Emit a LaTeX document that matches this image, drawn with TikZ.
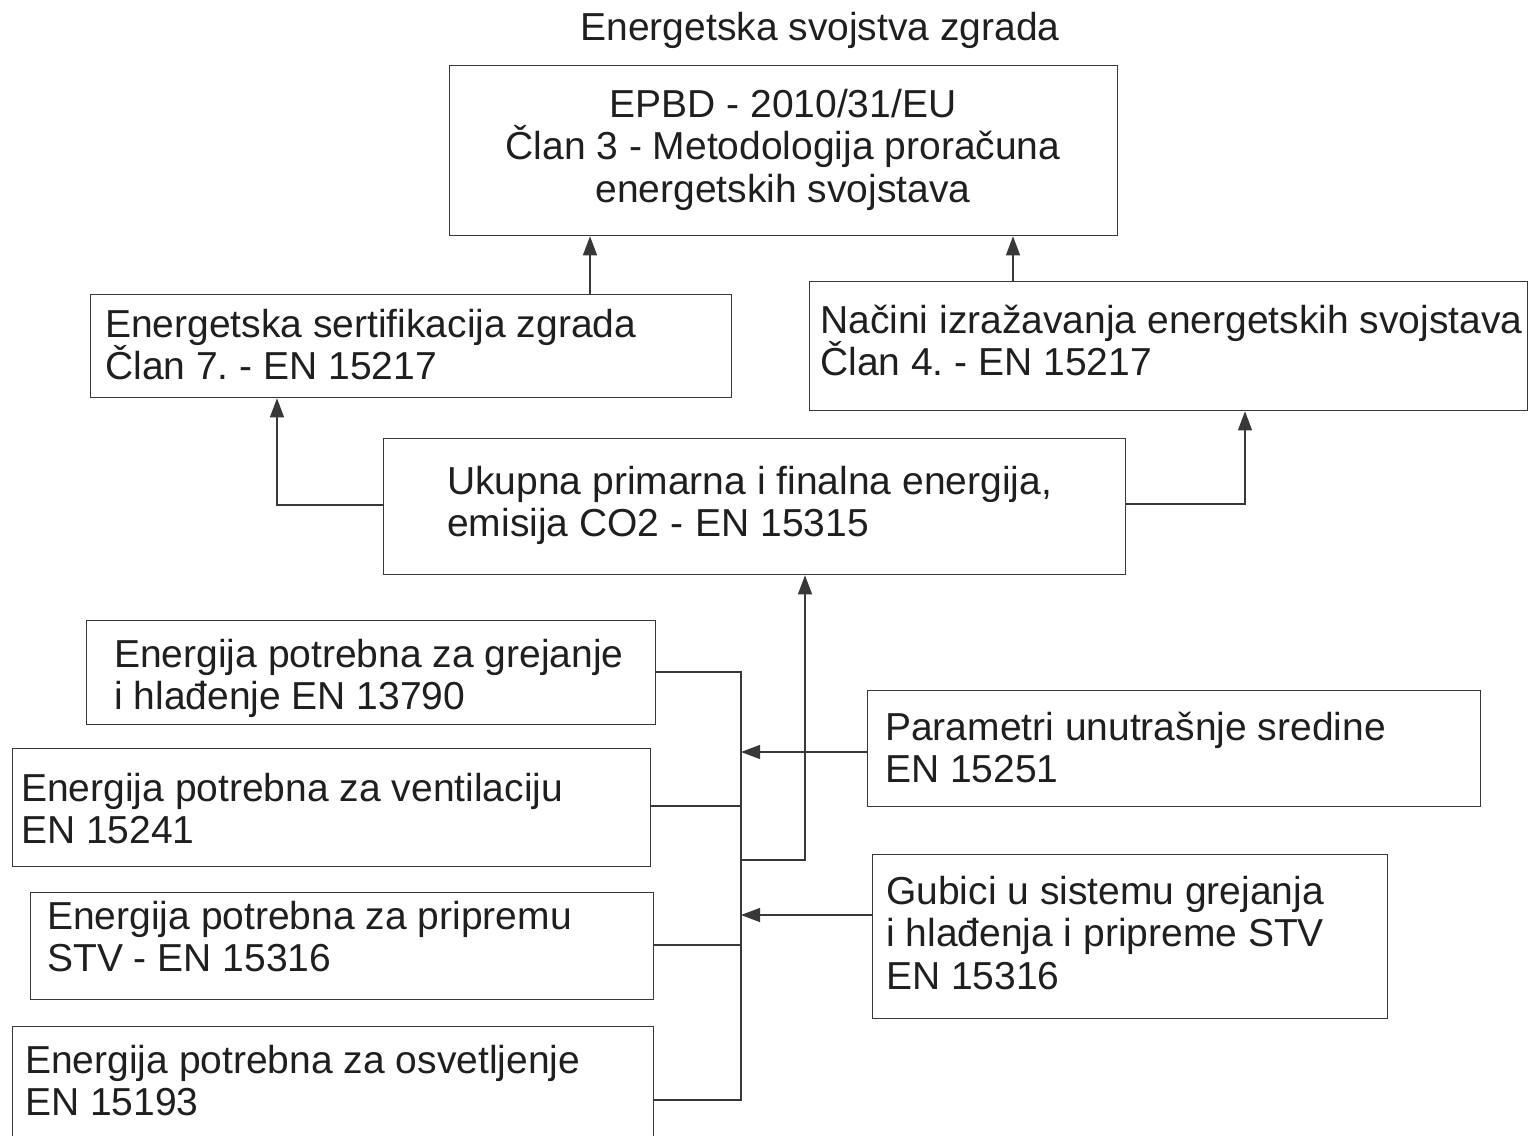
\documentclass[tikz,border=0pt]{standalone}
\usepackage{fontspec}
\setmainfont{Liberation Sans}
\usetikzlibrary{arrows.meta}
\frenchspacing
\newcommand\LftLines[1]{\vtop{\lineskiplimit=-100pt\baselineskip=42.5pt\lineskip=0pt\halign{##\hfil\cr#1\crcr}}}
\newcommand\CtrLines[1]{\vtop{\lineskiplimit=-100pt\baselineskip=42.5pt\lineskip=0pt\halign{\hfil##\hfil\cr#1\crcr}}}
\begin{document}
\begin{tikzpicture}[x=1pt,y=-1pt,
  box/.style={draw=black!78,line width=1.3pt,inner sep=0pt,anchor=north west},
  txt/.style={inner sep=0pt,font=\fontsize{39}{42.5}\selectfont\frenchspacing,text=black!88},
  ln/.style={draw=black!78,line width=1.2pt},
  arr/.style={draw=black!78,line width=1.2pt,-{Triangle[length=19pt,width=14pt]}}]
\useasboundingbox (0,0) rectangle (1533,1135);
% boxes
\node[box,minimum width=668pt,minimum height=170pt] (b1) at (449,65) {};
\node[box,minimum width=641pt,minimum height=103pt] (b2) at (90,294) {};
\node[box,minimum width=718pt,minimum height=129pt] (b3) at (809,281) {};
\node[box,minimum width=742pt,minimum height=136pt] (b4) at (383,438) {};
\node[box,minimum width=569pt,minimum height=104pt] (b5) at (86,620) {};
\node[box,minimum width=638pt,minimum height=118pt] (b6) at (12,748) {};
\node[box,minimum width=623pt,minimum height=107pt] (b7) at (30,892) {};
\node[box,minimum width=641pt,minimum height=130pt] (b8) at (12,1026) {};
\node[box,minimum width=613pt,minimum height=116pt] (b9) at (867,690) {};
\node[box,minimum width=515pt,minimum height=164pt] (b10) at (872,854) {};
% texts
\node[txt,anchor=base] (t0) at (820,40) {Energetska svojstva zgrada};
\node[txt,anchor=base] (t1) at (783,117) {\CtrLines{EPBD - 2010/31/EU\cr Član 3 - Metodologija proračuna\cr energetskih svojstava}};
\node[txt,anchor=base west] (t2) at (105,337) {\LftLines{Energetska sertifikacija zgrada\cr Član 7. - EN 15217}};
\node[txt,anchor=base west] (t3) at (820,333) {\LftLines{Načini izražavanja energetskih svojstava\cr Član 4. - EN 15217}};
\node[txt,anchor=base west] (t4) at (447,494) {\LftLines{Ukupna primarna i finalna energija,\cr emisija CO2 -\hspace{12pt}EN 15315}};
\node[txt,anchor=base west] (t5) at (114,667) {\LftLines{Energija potrebna za grejanje\cr i hlađenje EN 13790}};
\node[txt,anchor=base west] (t6) at (21,801) {\LftLines{Energija potrebna za ventilaciju\cr EN 15241}};
\node[txt,anchor=base west] (t7) at (47,929) {\LftLines{Energija potrebna za pripremu\cr STV - EN 15316}};
\node[txt,anchor=base west] (t8) at (25,1073) {\LftLines{Energija potrebna za osvetljenje\cr EN 15193}};
\node[txt,anchor=base west] (t9) at (885,740) {\LftLines{Parametri unutrašnje sredine\cr EN 15251}};
\node[txt,anchor=base west] (t10) at (886,904) {\LftLines{Gubici u sistemu grejanja\cr i hlađenja i pripreme STV\cr EN 15316}};
% connectors
\coordinate (p1) at (590,0);
\draw[arr] (p1 |- b2.north) -- (p1 |- b1.south);
\coordinate (p2) at (1013,0);
\draw[arr] (p2 |- b3.north) -- (p2 |- b1.south);
\coordinate (p3) at (277,505);
\draw[arr] (b4.west |- p3) -- (p3) -- (p3 |- b2.south);
\coordinate (p4) at (1245,504);
\draw[arr] (b4.east |- p4) -- (p4) -- (p4 |- b3.south);
\coordinate (bt) at (741,672);
\coordinate (bb) at (741,1100);
\draw[ln] (b5.east |- bt) -- (bt) -- (bb) -- (b8.east |- bb);
\coordinate (y6) at (741,806);
\draw[ln] (b6.east |- y6) -- (y6);
\coordinate (y7) at (741,945);
\draw[ln] (b7.east |- y7) -- (y7);
\coordinate (j) at (741,860);
\coordinate (k) at (805,860);
\draw[arr] (j) -- (k) -- (k |- b4.south);
\coordinate (y9) at (741,752);
\draw[arr] (b9.west |- y9) -- (y9);
\coordinate (y10) at (741,915);
\draw[arr] (b10.west |- y10) -- (y10);
\end{tikzpicture}
\end{document}
